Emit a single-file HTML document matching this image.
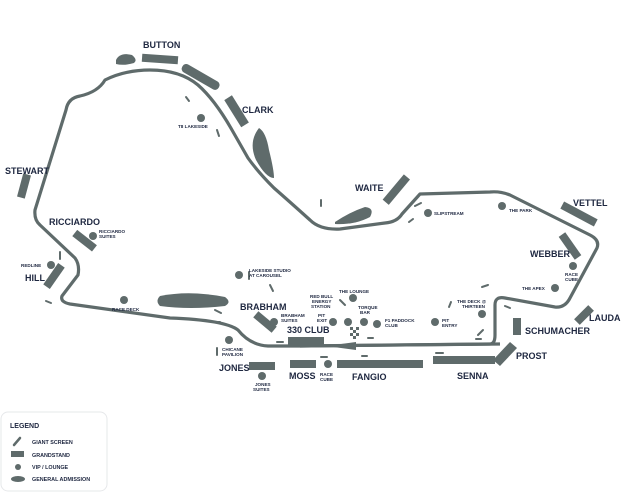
<!DOCTYPE html>
<html><head><meta charset="utf-8"><style>
body{margin:0;background:#fff}
svg{display:block}
text{font-family:"Liberation Sans",sans-serif;fill:#1e2740;font-weight:bold}
.b{font-size:9px}
.s{font-size:4.6px}
.l{font-size:5.4px}
.t{fill:none;stroke:#5f6b6b;stroke-width:3.2;stroke-linejoin:round;stroke-linecap:round}
.g{fill:#5f6b6b}
</style></head><body>
<svg width="630" height="500" viewBox="0 0 630 500" xmlns="http://www.w3.org/2000/svg">
<path class="t" d="M300,346 L490,344 Q495,344 495,335 L495,305 Q495,296 505,298 L555,307 Q565,308 570,298 L597,248 Q600,240 590,235 L510,195 Q500,191 490,192 L420,194 L402,214 Q397,222 385,223 L340,229 Q320,230 310,220 Q290,202 274,188 Q258,172 248,158 L232,130 Q215,100 198,85 Q180,70 150,70 Q125,70 105,80 Q98,92 80,96 Q68,98 66,110 L35,210 Q34,220 40,225 L75,258 Q80,265 78,275 L62,296 Q60,302 70,304 L170,318 Q225,320 238,330 Q250,345 268,346 Z"/>
<path d="M300,346 L500,344" stroke="#5f6b6b" stroke-width="3.2"/>
<polygon class="g" points="326,346 356,342 356,350"/>
<g class="g">
<path d="M116,60 Q120,52 132,55 Q138,60 134,63 Q124,66 116,64Z"/>
<rect x="142" y="55" width="36" height="8" transform="rotate(4 160 59)"/>
<rect x="180" y="72" width="42" height="9" rx="4" transform="rotate(30 200 76)"/>
<rect x="221" y="107" width="32" height="9" transform="rotate(58 237 111)"/>
<path d="M259,128 Q266,132 269,150 Q274,170 274,178 Q266,178 256,160 Q248,142 259,128Z"/>
<rect x="12" y="182" width="24" height="8" transform="rotate(-75 24 186)"/>
<rect x="72" y="237" width="25" height="8" transform="rotate(38 85 241)"/>
<rect x="41" y="272" width="26" height="8" transform="rotate(-55 54 276)"/>
<path d="M160,296 Q190,290 225,297 Q232,302 225,306 Q190,310 160,306 Q155,301 160,296Z"/>
<rect x="253" y="318" width="24" height="8" transform="rotate(40 265 322)"/>
<rect x="288" y="337" width="36" height="8"/>
<rect x="249" y="362" width="26" height="8"/>
<rect x="290" y="360" width="26" height="8"/>
<rect x="337" y="360" width="86" height="8"/>
<rect x="433" y="356" width="62" height="8"/>
<path d="M493,360 L510,342 L517,348 L500,366Z"/>
<rect x="513" y="318" width="8" height="17"/>
<rect x="574" y="311" width="20" height="8" transform="rotate(-45 584 315)"/>
<rect x="556" y="242" width="28" height="8" transform="rotate(55 570 246)"/>
<rect x="560" y="210" width="38" height="8" transform="rotate(28 579 214)"/>
<rect x="380" y="186" width="33" height="8" transform="rotate(-50 396 190)"/>
<path d="M335,222 Q350,212 365,207 Q375,208 370,217 Q355,225 335,224Z"/>
<rect x="350" y="327" width="3" height="3"/><rect x="356" y="327" width="3" height="3"/><rect x="353" y="330" width="3" height="3"/><rect x="350" y="333" width="3" height="3"/><rect x="356" y="333" width="3" height="3"/><rect x="353" y="336" width="3" height="3"/>
</g>
<g stroke="#5f6b6b" stroke-width="2" stroke-linecap="round">
<line x1="186" y1="97" x2="189" y2="101"/><line x1="217" y1="130" x2="219" y2="136"/>
<line x1="60" y1="252" x2="60" y2="259"/><line x1="46" y1="301" x2="51" y2="303"/>
<line x1="215" y1="310" x2="221" y2="313"/><line x1="214" y1="322" x2="220" y2="322"/>
<line x1="249" y1="272" x2="249" y2="279"/><line x1="270" y1="285" x2="273" y2="291"/>
<line x1="217" y1="348" x2="217" y2="355"/><line x1="277" y1="342" x2="283" y2="342"/>
<line x1="340" y1="300" x2="345" y2="305"/><line x1="368" y1="338" x2="373" y2="338"/>
<line x1="321" y1="357" x2="327" y2="357"/><line x1="362" y1="356" x2="367" y2="356"/>
<line x1="436" y1="353" x2="443" y2="353"/><line x1="321" y1="200" x2="321" y2="206"/>
<line x1="415" y1="206" x2="421" y2="203"/><line x1="409" y1="222" x2="413" y2="219"/>
<line x1="482" y1="287" x2="488" y2="285"/><line x1="449" y1="307" x2="451" y2="302"/>
<line x1="478" y1="335" x2="483" y2="330"/><line x1="476" y1="339" x2="481" y2="339"/>
<line x1="505" y1="306" x2="510" y2="308"/>
</g>
<g class="g">
<circle cx="201" cy="118" r="4"/><circle cx="93" cy="236" r="4"/><circle cx="51" cy="265" r="4"/>
<circle cx="124" cy="300" r="4"/><circle cx="239" cy="275" r="4"/><circle cx="274" cy="322" r="4"/>
<circle cx="229" cy="340" r="4"/><circle cx="262" cy="376" r="4"/><circle cx="328" cy="364" r="4"/>
<circle cx="333" cy="322" r="4"/><circle cx="348" cy="322" r="4"/><circle cx="353" cy="298" r="4"/>
<circle cx="364" cy="322" r="4"/><circle cx="377" cy="324" r="4"/><circle cx="435" cy="322" r="4"/>
<circle cx="482" cy="314" r="4"/><circle cx="555" cy="288" r="4"/><circle cx="573" cy="266" r="4"/>
<circle cx="502" cy="206" r="4"/><circle cx="428" cy="213" r="4"/>
</g>
<text class="b" x="143" y="48">BUTTON</text>
<text class="b" x="242" y="113">CLARK</text>
<text class="b" x="5" y="174">STEWART</text>
<text class="b" x="49" y="225">RICCIARDO</text>
<text class="b" x="25" y="281">HILL</text>
<text class="b" x="355" y="191">WAITE</text>
<text class="b" x="573" y="206">VETTEL</text>
<text class="b" x="530" y="257">WEBBER</text>
<text class="b" x="589" y="321">LAUDA</text>
<text class="b" x="525" y="334">SCHUMACHER</text>
<text class="b" x="516" y="359">PROST</text>
<text class="b" x="457" y="379">SENNA</text>
<text class="b" x="352" y="380">FANGIO</text>
<text class="b" x="289" y="379">MOSS</text>
<text class="b" x="219" y="371">JONES</text>
<text class="b" x="240" y="310">BRABHAM</text>
<text class="b" x="287" y="333">330 CLUB</text>
<text class="s" x="178" y="128">T8 LAKESIDE</text>
<text class="s" x="99" y="233">RICCIARDO</text><text class="s" x="99" y="238">SUITES</text>
<text class="s" x="21" y="267">REDLINE</text>
<text class="s" x="112" y="311">RACE DECK</text>
<text class="s" x="249" y="272">LAKESIDE STUDIO</text><text class="s" x="249" y="277">AT CAROUSEL</text>
<text class="s" x="281" y="317">BRABHAM</text><text class="s" x="281" y="322">SUITES</text>
<text class="s" x="222" y="351">CHICANE</text><text class="s" x="222" y="356">PAVILION</text>
<text class="s" x="255" y="386">JONES</text><text class="s" x="253" y="391">SUITES</text>
<text class="s" x="320" y="376">RACE</text><text class="s" x="320" y="381">CUBE</text>
<text class="s" x="310" y="298">RED BULL</text><text class="s" x="312" y="303">ENERGY</text><text class="s" x="311" y="308">STATION</text>
<text class="s" x="318" y="317">PIT</text><text class="s" x="317" y="322">EXIT</text>
<text class="s" x="339" y="293">THE LOUNGE</text>
<text class="s" x="358" y="309">TORQUE</text><text class="s" x="360" y="314">BAR</text>
<text class="s" x="385" y="322">F1 PADDOCK</text><text class="s" x="385" y="327">CLUB</text>
<text class="s" x="442" y="322">PIT</text><text class="s" x="442" y="327">ENTRY</text>
<text class="s" x="457" y="303">THE DECK @</text><text class="s" x="462" y="308">THIRTEEN</text>
<text class="s" x="522" y="290">THE APEX</text>
<text class="s" x="565" y="276">RACE</text><text class="s" x="565" y="281">CUBE</text>
<text class="s" x="509" y="212">THE PARK</text>
<text class="s" x="434" y="215">SLIPSTREAM</text>
<rect x="1" y="412" width="106" height="79" rx="7" fill="#fff" stroke="#e6e8ea"/>
<text x="10" y="428" style="font-size:7px">LEGEND</text>
<line x1="14" y1="445" x2="20" y2="438" stroke="#5f6b6b" stroke-width="2.5" stroke-linecap="round"/>
<rect x="11" y="451" width="13" height="6" class="g"/>
<circle cx="18" cy="467" r="3" class="g"/>
<ellipse cx="18" cy="479" rx="7" ry="3" class="g"/>
<text class="l" x="32" y="444">GIANT SCREEN</text>
<text class="l" x="32" y="457">GRANDSTAND</text>
<text class="l" x="32" y="469">VIP / LOUNGE</text>
<text class="l" x="32" y="481">GENERAL ADMISSION</text>
</svg>
</body></html>
